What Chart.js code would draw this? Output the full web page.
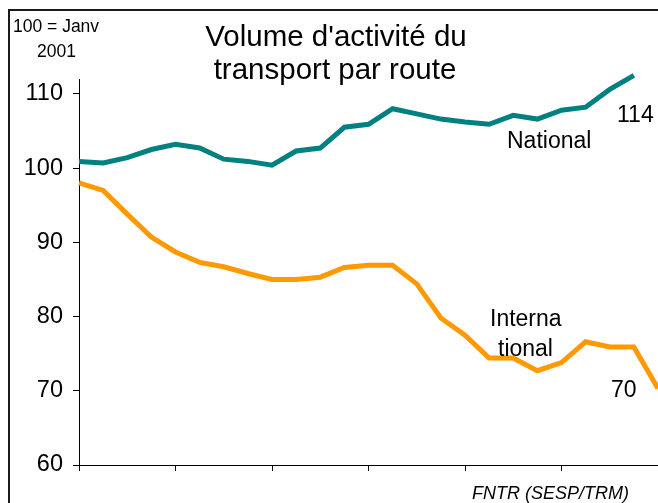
<!DOCTYPE html>
<html><head><meta charset="utf-8">
<script src="https://cdn.jsdelivr.net/npm/chart.js@4"></script>
<style>html,body{margin:0;padding:0;background:#fff;}#wrap{width:658px;height:503px;position:relative;}canvas{display:block;}</style>
</head><body><div id="wrap"><canvas id="c" width="658" height="503"></canvas></div>
<script>
// Monthly periods, January 2001 = 100
const periods = ["janv 2001","févr 2001","mars 2001","avr 2001","mai 2001","juin 2001","juil 2001","août 2001","sept 2001","oct 2001","nov 2001","déc 2001",
  "janv 2002","févr 2002","mars 2002","avr 2002","mai 2002","juin 2002","juil 2002","août 2002","sept 2002","oct 2002","nov 2002","déc 2002","janv 2003"];
const national = [100.9,100.7,101.4,102.5,103.2,102.7,101.2,100.9,100.4,102.3,102.7,105.5,105.9,108.0,107.3,106.6,106.2,105.9,107.1,106.6,107.8,108.2,110.6,112.5,null];
const international = [98.0,97.0,93.8,90.7,88.7,87.3,86.7,85.8,85.0,85.0,85.3,86.6,86.9,86.9,84.4,79.8,77.5,74.4,74.4,72.7,73.8,76.6,75.9,75.9,70.3];
const yTicks = [60,70,80,90,100,110];
const tickEvery = 4;

const FONT = "'Liberation Sans', Arial, sans-serif";

const decor = {
  id: 'decor',
  beforeDraw(chart) {
    const ctx = chart.ctx;
    ctx.save();
    ctx.fillStyle = '#fff';
    ctx.fillRect(0, 0, chart.width, chart.height);
    ctx.strokeStyle = '#1a1a1a';
    ctx.lineWidth = 2;
    ctx.beginPath();
    ctx.moveTo(9, chart.height);
    ctx.lineTo(9, 10);
    ctx.lineTo(chart.width, 10);
    ctx.stroke();
    ctx.restore();
  },
  afterDraw(chart) {
    const ctx = chart.ctx;
    const notes = [
      {t: "100 = Janv", x: 13, y: 32, s: 17.5},
      {t: "2001", x: 37, y: 57, s: 17.5},
      {t: "Volume d'activité du", x: 336, y: 46, s: 29.5, c: true},
      {t: "transport par route", x: 335, y: 79, s: 29.5, c: true},
      {t: "National", x: 507, y: 148, s: 23},
      {t: "114", x: 617, y: 122, s: 23},
      {t: "Interna", x: 490, y: 326, s: 23},
      {t: "tional", x: 498, y: 356, s: 23},
      {t: "70", x: 611, y: 397, s: 23},
      {t: "FNTR (SESP/TRM)", x: 472, y: 499, s: 18, i: true}
    ];
    ctx.save();
    ctx.fillStyle = '#000';
    ctx.textBaseline = 'alphabetic';
    notes.forEach(n => {
      ctx.font = (n.i ? 'italic ' : '') + n.s + 'px ' + FONT;
      ctx.textAlign = n.c ? 'center' : 'left';
      ctx.fillText(n.t, n.x, n.y);
    });
    ctx.restore();
  }
};

new Chart(document.getElementById('c'), {
  type: 'line',
  data: {
    labels: periods,
    datasets: [
      {label: 'National', data: national, borderColor: '#008080', backgroundColor: '#008080', borderWidth: 5, pointRadius: 0, tension: 0, clip: false, borderJoinStyle: 'miter'},
      {label: 'International', data: international, borderColor: '#FF9900', backgroundColor: '#FF9900', borderWidth: 5, pointRadius: 0, tension: 0, clip: false, borderJoinStyle: 'miter'}
    ]
  },
  options: {
    responsive: false,
    animation: false,
    devicePixelRatio: 1,
    layout: {padding: {top: 79, left: 0, right: 0, bottom: 0}},
    plugins: {legend: {display: false}, tooltip: {enabled: false}, title: {display: false}},
    scales: {
      x: {
        type: 'category',
        offset: false,
        grid: {
          drawOnChartArea: false, drawTicks: true, tickLength: 6, lineWidth: 1,
          color: c => (c.index % tickEvery === 0 ? '#000' : 'rgba(0,0,0,0)')
        },
        border: {display: true, color: '#000', width: 1},
        ticks: {display: false, autoSkip: false},
        afterFit: s => { s.height = 38; }
      },
      y: {
        min: 60, max: 112,
        afterBuildTicks: s => { s.ticks = yTicks.map(v => ({value: v})); },
        grid: {drawOnChartArea: false, drawTicks: true, tickLength: 6, color: '#000', lineWidth: 1},
        border: {display: true, color: '#000', width: 1},
        ticks: {color: '#000', padding: 10, font: {family: FONT, size: 23.5}},
        afterFit: s => { s.width = 79; }
      }
    }
  },
  plugins: [decor]
});
</script>
</body></html>
